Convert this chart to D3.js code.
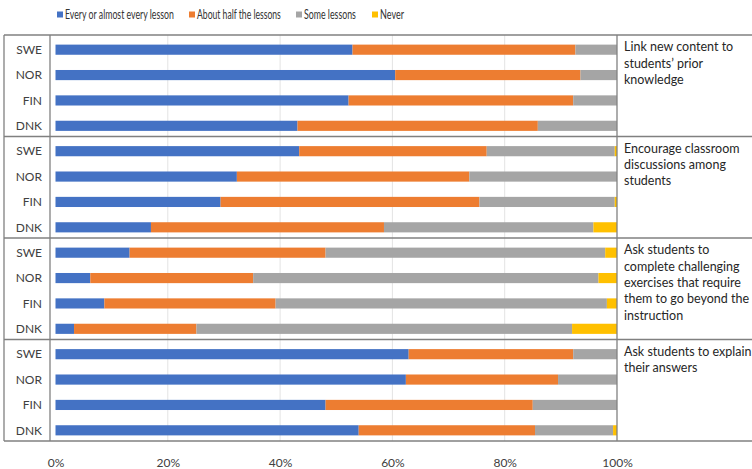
<!DOCTYPE html>
<html>
<head>
<meta charset="utf-8">
<script src="https://cdn.jsdelivr.net/npm/d3@7/dist/d3.min.js"></script>
<style>
  html, body { margin: 0; padding: 0; background: #fff; }
  svg { display: block; font-family: Lato, "Open Sans", sans-serif; }
</style>
</head>
<body>
<svg id="chart" width="752" height="469"></svg>
<script>
// Countries shown in every practice block
const countries = ["SWE", "NOR", "FIN", "DNK"];

// Teaching practices (one block each), with wrapped description lines
const practices = [
  ["Link new content to", "students\u2019 prior", "knowledge"],
  ["Encourage classroom", "discussions among", "students"],
  ["Ask students to", "complete challenging", "exercises that require", "them to go beyond the", "instruction"],
  ["Ask students to explain", "their answers"]
];

// Response categories
const seriesNames = ["Every or almost every lesson", "About half the lessons", "Some lessons", "Never"];
const seriesColors = ["#4472C4", "#ED7D31", "#A5A5A5", "#FFC000"];

// Percent of students per response, [practice][country] in country order above
const everyLesson = [
  [52.9, 60.5, 52.2, 43.1],
  [43.4, 32.3, 29.4, 17.0],
  [13.2, 6.2, 8.7, 3.3],
  [62.9, 62.4, 48.1, 54.0]
];
const halfLessons = [
  [39.7, 33.0, 40.0, 42.8],
  [33.4, 41.4, 46.1, 41.5],
  [34.9, 29.0, 30.5, 21.8],
  [29.3, 27.1, 36.9, 31.4]
];
const someLessons = [
  [7.4, 6.5, 7.8, 14.1],
  [22.8, 26.3, 24.1, 37.3],
  [49.8, 61.5, 59.0, 66.9],
  [7.8, 10.5, 15.0, 13.9]
];
const never = [
  [0.0, 0.0, 0.0, 0.0],
  [0.4, 0.0, 0.4, 4.2],
  [2.1, 3.3, 1.8, 8.0],
  [0.0, 0.0, 0.0, 0.7]
];

const xTicks = [0, 20, 40, 60, 80, 100];

const svg = d3.select("#chart");

// Layout
const tableLeft = 4, labelDivider = 50, plotRight = 617, tableRight = 752;
const tableTop = 35, tableBottom = 441;
const x = d3.scaleLinear().domain([0, 100]).range([55.5, plotRight]);
const panelY = d3.scaleBand().domain(d3.range(practices.length)).range([tableTop, tableBottom]).padding(0);

// Gridlines
svg.append("g")
  .selectAll("line")
  .data(xTicks.filter(t => t > 0 && t < 100))
  .join("line")
  .attr("x1", d => x(d)).attr("x2", d => x(d))
  .attr("y1", tableTop).attr("y2", tableBottom)
  .attr("stroke", "#e3e3e3").attr("stroke-width", 1);

// Stacked bars
const keys = ["every", "half", "some", "never"];
const stack = d3.stack().keys(keys);

practices.forEach((p, pi) => {
  const rows = countries.map((c, ci) => ({
    country: c,
    every: everyLesson[pi][ci],
    half: halfLessons[pi][ci],
    some: someLessons[pi][ci],
    never: never[pi][ci]
  }));
  const top = panelY(pi), h = panelY.bandwidth();
  const y = d3.scaleBand().domain(countries).range([top + 2, top + h + 2]).paddingInner(0.6).paddingOuter(0.3);

  const g = svg.append("g").attr("class", "panel");
  g.selectAll("g.series")
    .data(stack(rows))
    .join("g")
    .attr("class", "series")
    .attr("fill", (d, i) => seriesColors[i])
    .selectAll("rect")
    .data(d => d)
    .join("rect")
    .attr("x", d => x(d[0]))
    .attr("width", d => Math.max(0, x(d[1]) - x(d[0])))
    .attr("y", d => y(d.data.country))
    .attr("height", y.bandwidth());

  // Country labels
  g.selectAll("text.country")
    .data(countries)
    .join("text")
    .attr("class", "country")
    .attr("x", 42)
    .attr("y", d => y(d) + y.bandwidth() / 2)
    .attr("dy", "0.35em")
    .attr("text-anchor", "end")
    .attr("font-size", 12)
    .attr("fill", "#404040")
    .text(d => d);

  // Practice description
  g.append("text")
    .attr("x", 624)
    .attr("y", top + 12)
    .attr("font-size", 12.5)
    .attr("fill", "#262626")
    .selectAll("tspan")
    .data(p)
    .join("tspan")
    .attr("x", 624)
    .attr("dy", (d, i) => i === 0 ? "0.35em" : 16.3)
    .text(d => d);
});

// Table rules
const rule = svg.append("g").attr("stroke", "#808080").attr("stroke-width", 1.3).attr("fill", "none");
d3.range(practices.length + 1).forEach(i => {
  const yy = i < practices.length ? panelY(i) : tableBottom;
  rule.append("line").attr("x1", tableLeft).attr("x2", tableRight).attr("y1", yy).attr("y2", yy);
});
rule.append("line").attr("x1", tableLeft).attr("x2", tableLeft).attr("y1", tableTop).attr("y2", tableBottom);
rule.append("line").attr("x1", labelDivider).attr("x2", labelDivider).attr("y1", tableTop).attr("y2", tableBottom);
rule.append("line").attr("x1", plotRight).attr("x2", plotRight).attr("y1", tableTop).attr("y2", tableBottom);

// Percentage axis
const axis = svg.append("g")
  .attr("transform", `translate(0,${tableBottom + 14})`)
  .call(d3.axisBottom(x).tickValues(xTicks).tickFormat(d => d + "%").tickSize(0));
axis.select(".domain").remove();
axis.selectAll("text").attr("font-family", "Lato, 'Open Sans', sans-serif").attr("font-size", 12).attr("fill", "#404040");

// Legend: each label is horizontally condensed to fit its slot
const legendX = [57, 189, 296, 372];
const legendW = [109, 84, 52, 24];
const legend = svg.append("g");
seriesNames.forEach((name, i) => {
  legend.append("rect").attr("x", legendX[i]).attr("y", 11.5).attr("width", 6).attr("height", 6).attr("fill", seriesColors[i]);
  const t = legend.append("text")
    .attr("dy", "0.35em")
    .attr("font-size", 12.5).attr("fill", "#333")
    .text(name);
  const natural = t.node().getComputedTextLength();
  const sx = Math.min(1, legendW[i] / natural);
  t.attr("transform", `translate(${legendX[i] + 8},14.5) scale(${sx},1)`);
});
</script>
</body>
</html>
